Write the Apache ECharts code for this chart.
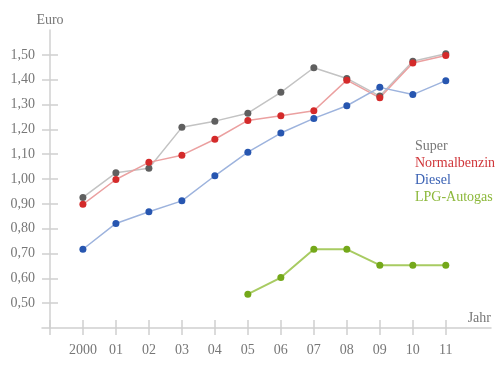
<!DOCTYPE html>
<html><head><meta charset="utf-8">
<script src="https://cdn.jsdelivr.net/npm/echarts@6/dist/echarts.min.js"></script>
<style>html,body{margin:0;padding:0;background:#fff}#c{width:500px;height:366px}</style>
</head><body><div id="c"></div>
<script>
var years = [2000, 2001, 2002, 2003, 2004, 2005, 2006, 2007, 2008, 2009, 2010, 2011];
var yearLabels = ['2000','01','02','03','04','05','06','07','08','09','10','11'];
var superVals = [0.926, 1.025, 1.043, 1.208, 1.233, 1.265, 1.349, 1.448, 1.405, 1.334, 1.474, 1.504];
var normalVals = [0.898, 0.998, 1.067, 1.096, 1.160, 1.236, 1.255, 1.275, 1.398, 1.327, 1.467, 1.497];
var dieselVals = [0.717, 0.821, 0.868, 0.912, 1.013, 1.108, 1.185, 1.244, 1.295, 1.369, 1.340, 1.396];
var lpgVals = [null, null, null, null, null, 0.536, 0.603, 0.717, 0.717, 0.653, 0.653, 0.653];
var yTicks = [0.5, 0.6, 0.7, 0.8, 0.9, 1.0, 1.1, 1.2, 1.3, 1.4, 1.5];
var xTicks = [1999, 2000, 2001, 2002, 2003, 2004, 2005, 2006, 2007, 2008, 2009, 2010, 2011];

var FONT = 'Liberation Serif';
var axisGray = '#d0d0d0';
var textGray = '#777';

function pairs(vals){ return years.map(function(y,i){ return [y, vals[i]]; }); }
function lbl(v){
  var i = years.indexOf(Math.round(v));
  return i >= 0 ? yearLabels[i] : '';
}
function ser(name, vals, lineColor, markColor, w){
  return {
    name: name, type: 'line', data: pairs(vals), symbol: 'circle', symbolSize: 7,
    connectNulls: false, xAxisIndex: 0, yAxisIndex: 0,
    lineStyle: {color: lineColor, width: w}, itemStyle: {color: markColor},
    emphasis: {disabled: true}
  };
}
var chart = echarts.init(document.getElementById('c'), null, {renderer: 'canvas'});
chart.setOption({
  animation: false,
  textStyle: {fontFamily: FONT},
  grid: {left: 42, right: 9, top: 30, bottom: 38},
  xAxis: [{
    type: 'value', min: 1998.76, max: 2012.37,
    axisLine: {lineStyle: {color: axisGray, width: 1.5}},
    splitLine: {show: false},
    axisTick: {show: true, length: 7, customValues: xTicks, lineStyle: {color: axisGray, width: 1.5}},
    axisLabel: {customValues: years, formatter: lbl, margin: 15, color: textGray, fontFamily: FONT, fontSize: 14},
    name: 'Jahr', nameLocation: 'end', nameGap: 0,
    nameTextStyle: {color: textGray, fontFamily: FONT, fontSize: 14, align: 'right', verticalAlign: 'bottom', padding: [0,0,3,0]}
  },{
    type: 'value', min: 1998.76, max: 2012.37, position: 'bottom',
    axisLine: {show: false}, splitLine: {show: false}, axisLabel: {show: false},
    axisTick: {show: true, inside: true, length: 8, customValues: xTicks, lineStyle: {color: axisGray, width: 1.5}}
  }],
  yAxis: [{
    type: 'value', min: 0.4, max: 1.6, offset: -8,
    axisLine: {show: true, lineStyle: {color: axisGray, width: 1.5}},
    splitLine: {show: false},
    axisTick: {show: true, length: 8, customValues: yTicks, lineStyle: {color: axisGray, width: 1.5}},
    axisLabel: {customValues: yTicks, formatter: function(v){ return v.toFixed(2).replace('.', ','); },
      margin: 15, color: textGray, fontFamily: FONT, fontSize: 14},
    name: 'Euro', nameLocation: 'end', nameGap: 10,
    nameTextStyle: {color: textGray, fontFamily: FONT, fontSize: 14, align: 'center', verticalAlign: 'middle'}
  },{
    type: 'value', min: 0.4, max: 1.6, offset: -8, position: 'left',
    axisLine: {show: false}, splitLine: {show: false}, axisLabel: {show: false},
    axisTick: {show: true, inside: true, length: 8, customValues: yTicks, lineStyle: {color: axisGray, width: 1.5}}
  }],
  legend: {
    orient: 'vertical', left: 405, top: 134, icon: 'none', itemWidth: 0, itemHeight: 14, itemGap: 3,
    selectedMode: false,
    textStyle: {fontFamily: FONT, fontSize: 14, lineHeight: 14, padding: [0,0,0,0]},
    data: [
      {name: 'Super', textStyle: {color: '#777'}},
      {name: 'Normalbenzin', textStyle: {color: '#d0363a'}},
      {name: 'Diesel', textStyle: {color: '#3b62b4'}},
      {name: 'LPG-Autogas', textStyle: {color: '#8cb83a'}}
    ]
  },
  series: [
    ser('Super', superVals, '#c3c3c3', '#5f5f5f', 1.5),
    ser('Normalbenzin', normalVals, '#eba0a0', '#d42a2a', 1.5),
    ser('Diesel', dieselVals, '#9db3dd', '#2756b0', 1.5),
    ser('LPG-Autogas', lpgVals, '#a8cb62', '#74a81a', 2)
  ]
});
</script></body></html>
